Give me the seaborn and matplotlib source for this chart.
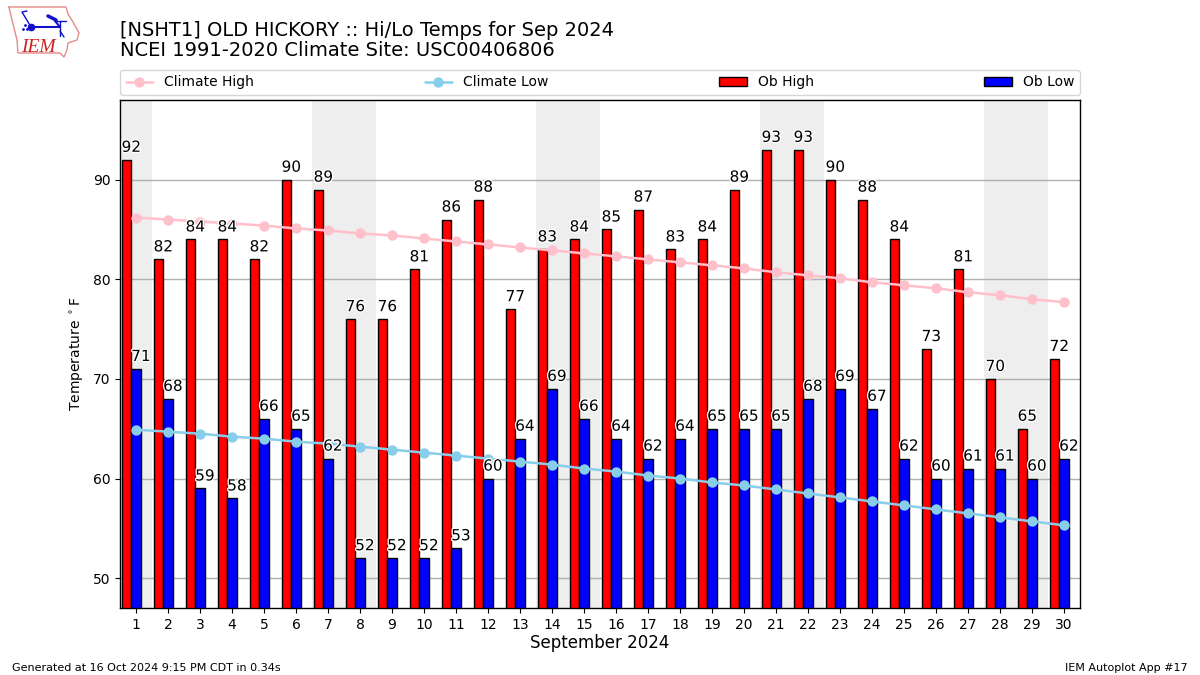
import matplotlib

matplotlib.use("Agg")
import matplotlib.pyplot as plt  # noqa: E402
import matplotlib.patheffects as pe  # noqa: E402
import seaborn as sns  # noqa: E402

import pandas as pd

DAYS = list(range(1, 31))
OB_HIGH = [92, 82, 84, 84, 82, 90, 89, 76, 76, 81, 86, 88, 77, 83, 84,
           85, 87, 83, 84, 89, 93, 93, 90, 88, 84, 73, 81, 70, 65, 72]
OB_LOW = [71, 68, 59, 58, 66, 65, 62, 52, 52, 52, 53, 60, 64, 69, 66,
          64, 62, 64, 65, 65, 65, 68, 69, 67, 62, 60, 61, 61, 60, 62]
CLIMATE_HIGH = [86.2, 86.0, 85.8, 85.6, 85.4, 85.1, 84.9, 84.6, 84.4, 84.1,
                83.8, 83.5, 83.2, 82.9, 82.6, 82.3, 82.0, 81.7, 81.4, 81.1,
                80.7, 80.4, 80.1, 79.7, 79.4, 79.1, 78.7, 78.4, 78.0, 77.7]
CLIMATE_LOW = [64.9, 64.7, 64.5, 64.2, 64.0, 63.7, 63.5, 63.2, 62.9, 62.6,
               62.3, 62.0, 61.7, 61.4, 61.0, 60.7, 60.3, 60.0, 59.6, 59.3,
               58.9, 58.5, 58.1, 57.7, 57.3, 56.9, 56.5, 56.1, 55.7, 55.3]
WEEKEND_SPANS = [(0.5, 1.5), (6.5, 8.5), (13.5, 15.5), (20.5, 22.5), (27.5, 29.5)]

sns.set_theme(style="ticks", rc={"axes.edgecolor": "black", "text.color": "black",
                                 "axes.labelcolor": "black"})
plt.rcParams["font.family"] = ["DejaVu Sans"]

df = pd.DataFrame({"day": DAYS, "high": OB_HIGH, "low": OB_LOW,
                   "clim_high": CLIMATE_HIGH, "clim_low": CLIMATE_LOW})
df["high_x"] = df["day"] - 0.3

fig = plt.figure(figsize=(12, 6.75), dpi=100)
ax = fig.add_axes([120 / 1200, 1 - 608 / 675, 960 / 1200, 508 / 675])

for start, end in WEEKEND_SPANS:
    ax.axvspan(start, end, color="#eeeeee", lw=0, zorder=0)
ax.yaxis.grid(True, color="#b0b0b0", lw=1)
ax.set_axisbelow(True)

sns.barplot(data=df, x="high_x", y="high", native_scale=True, width=0.3, color="red",
            saturation=1, edgecolor="black", linewidth=1, label="Ob High", ax=ax, zorder=2)
sns.barplot(data=df, x="day", y="low", native_scale=True, width=0.3, color="blue",
            saturation=1, edgecolor="black", linewidth=1, label="Ob Low", ax=ax, zorder=2)
sns.lineplot(data=df, x="day", y="clim_high", color="pink", marker="o", markersize=7.5,
             markeredgewidth=0, lw=1.8, label="Climate High", ax=ax, zorder=3)
sns.lineplot(data=df, x="day", y="clim_low", color="skyblue", marker="o", markersize=7.5,
             markeredgewidth=0, lw=1.8, label="Climate Low", ax=ax, zorder=3)

halo = [pe.withStroke(linewidth=2, foreground="white")]
for day, hi, lo in zip(DAYS, OB_HIGH, OB_LOW):
    ax.text(day - 0.45, hi + 0.5, str(hi), fontsize=11, ha="left", va="bottom",
            path_effects=halo, zorder=4)
    ax.text(day - 0.15, lo + 0.5, str(lo), fontsize=11, ha="left", va="bottom",
            path_effects=halo, zorder=4)

ax.set_xlim(0.5, 30.5)
ax.set_ylim(47, 98)
ax.set_xticks(DAYS)
ax.set_yticks([50, 60, 70, 80, 90])
ax.tick_params(labelsize=10, length=3.5, width=0.8, color="black", labelcolor="black")
ax.set_xlabel("September 2024", fontsize=12, labelpad=2)
ax.set_ylabel(r"Temperature $^\circ$F", fontsize=10, labelpad=5)
for spine in ax.spines.values():
    spine.set_visible(True)
    spine.set_linewidth(1)

handles, labels = ax.get_legend_handles_labels()
order = [labels.index(n) for n in ["Climate High", "Climate Low", "Ob High", "Ob Low"]]
ax.legend([handles[i] for i in order], [labels[i] for i in order], ncol=4, mode="expand",
          loc="lower left", bbox_to_anchor=(0, 1.01, 1, 0.05), borderaxespad=0,
          fontsize=10, framealpha=0.8)

fig.text(120 / 1200, 1 - 60 / 675, "[NSHT1] OLD HICKORY :: Hi/Lo Temps for Sep 2024\n"
         "NCEI 1991-2020 Climate Site: USC00406806", fontsize=14, va="bottom", ha="left",
         linespacing=1.1)
fig.text(12 / 1200, 1 - 671 / 675, "Generated at 16 Oct 2024 9:15 PM CDT in 0.34s", fontsize=8)
fig.text(1188 / 1200, 1 - 671 / 675, "IEM Autoplot App #17", fontsize=8, ha="right")

# rough redraw of the IEM logo in pixel coordinates
logo = fig.add_axes([0, 1 - 65 / 675, 90 / 1200, 65 / 675])
logo.set_xlim(0, 90)
logo.set_ylim(65, 0)
logo.axis("off")
outline_x = [9, 66, 68, 73, 79, 77, 68, 67, 64, 60, 18, 17, 12, 9]
outline_y = [7, 7, 14, 22, 33, 40, 43, 50, 57, 53, 53, 40, 20, 7]
logo.plot(outline_x, outline_y, color="#e88a8a", lw=1)
logo.plot([31, 60], [27, 27], color="#1111cc", lw=1.5)
logo.plot([31, 22, 27], [27, 12, 11], color="#1111cc", lw=1)
logo.plot([48, 56], [16, 20], color="#1111cc", lw=2.5)
logo.plot([56, 66], [21, 21], color="#1111cc", lw=1)
logo.plot([55, 60], [21, 27], color="#1111cc", lw=1.5)
logo.plot([60, 60], [21, 36], color="#1111cc", lw=1)
logo.plot([60, 64], [31, 37], color="#1111cc", lw=1)
logo.plot([31], [27], "o", color="#1111cc", ms=4.5)
logo.plot([23, 25, 27], [29, 25, 29], ".", color="#1111cc", ms=2)
logo.text(21, 52, "IEM", color="#cc2222", family="Liberation Serif", style="italic",
          fontsize=14, va="baseline")

fig.savefig("out.png", dpi=100)
